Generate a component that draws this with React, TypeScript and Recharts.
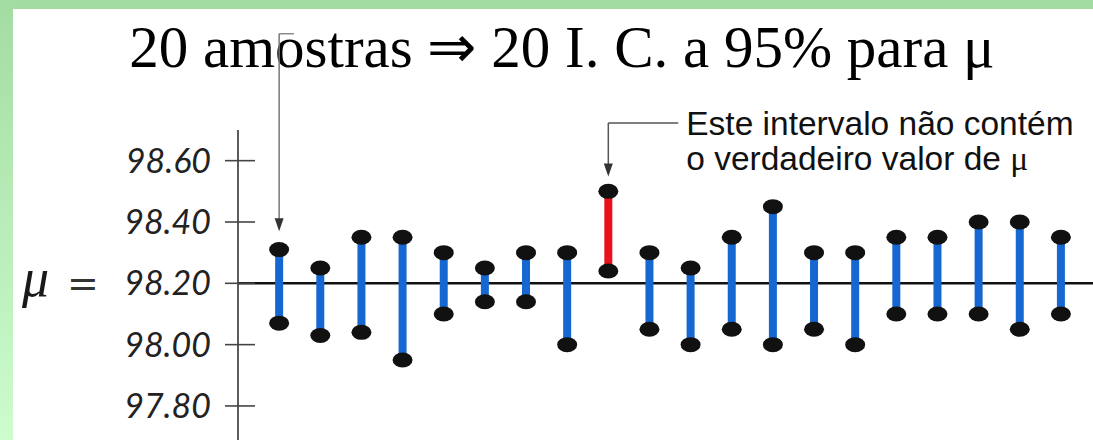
import React from "react";
import {
  ComposedChart,
  XAxis,
  YAxis,
  Scatter,
  ErrorBar,
  ReferenceLine,
} from "recharts";

// ---- data ----
const sampleIds = [1, 2, 3, 4, 5, 6, 7, 8, 9, 10, 11, 12, 13, 14, 15, 16, 17, 18, 19, 20];
const lowerBounds = [98.07, 98.03, 98.04, 97.95, 98.10, 98.14, 98.14, 98.00, 98.24, 98.05,
  98.00, 98.05, 98.00, 98.05, 98.00, 98.10, 98.10, 98.10, 98.05, 98.10];
const upperBounds = [98.31, 98.25, 98.35, 98.35, 98.30, 98.25, 98.30, 98.30, 98.50, 98.30,
  98.25, 98.35, 98.45, 98.30, 98.30, 98.35, 98.35, 98.40, 98.40, 98.35];
const yTicks = [97.8, 98.0, 98.2, 98.4, 98.6];
const muValue = 98.2;
const titleText = "20 amostras \u21D2 20 I. C. a 95% para \u03BC";
const noteLine1 = "Este intervalo não contém";
const noteLine2 = "o verdadeiro valor de ";

const rows = sampleIds.map((id, i) => {
  const lo = lowerBounds[i];
  const hi = upperBounds[i];
  const mid = (lo + hi) / 2;
  return { idx: id, lo, hi, y: mid, err: [mid - lo, hi - mid], covers: lo <= muValue && hi >= muValue };
});
const coverRows = rows.filter((r) => r.covers);
const missRows = rows.filter((r) => !r.covers);
const lowPoints = rows.map((r) => ({ idx: r.idx, y: r.lo }));
const highPoints = rows.map((r) => ({ idx: r.idx, y: r.hi }));
const missed = missRows[0];

const BLUE = "#1667d2";
const RED = "#e8121c";

const Dot = (p: any) => <ellipse cx={p.cx} cy={p.cy} rx={10} ry={7.5} fill="#111" />;
const Nothing = () => <g />;

const YTick = (props: any) => {
  const { x, y, payload } = props;
  const v = Number(payload.value);
  return (
    <g>
      <line x1={x - 13} x2={x + 17} y1={y} y2={y} stroke="#444" strokeWidth={1.6} />
      <text
        x={x - 27}
        y={y + 12}
        textAnchor="end"
        fontFamily="Lato, 'Open Sans', sans-serif"
        fontStyle="italic"
        fontWeight={400}
        fontSize={34}
        fill="#222"
      >
        {v.toFixed(2)}
      </text>
      {Math.abs(v - muValue) < 1e-9 && (
        <>
          <text x={22} y={y + 13} fontFamily="'Liberation Serif', serif" fontStyle="italic" fontSize={54} fill="#1a1a1a">
            μ
          </text>
          <text x={67} y={y + 13} fontFamily="'DejaVu Sans', sans-serif" fontSize={38} fill="#333">
            =
          </text>
        </>
      )}
    </g>
  );
};

const makeArrow = (head: boolean, color: string) => (p: any) => {
  const { x1, y1, x2, y2 } = p;
  return (
    <g>
      <line x1={x1} y1={y1} x2={x2} y2={head ? y2 - 10 : y2} stroke={color} strokeWidth={1.5} />
      {head && <polygon points={`${x2 - 4.5},${y2 - 13} ${x2 + 4.5},${y2 - 13} ${x2},${y2}`} fill="#333" />}
    </g>
  );
};

const NoteShape = (p: any) => {
  const { x1, y1, x2, y2 } = p;
  const right = Math.max(x1, x2);
  return (
    <g>
      <line x1={x1} y1={y1} x2={x2} y2={y2} stroke="#555" strokeWidth={1.5} />
      <text x={right + 8} y={y1 + 12} fontFamily="'Liberation Sans', Arial, sans-serif" fontSize={33.5} fill="#111">
        {noteLine1}
      </text>
      <text x={right + 8} y={y1 + 47} fontFamily="'Liberation Sans', Arial, sans-serif" fontSize={33.5} fill="#111">
        {noteLine2}
        <tspan fontFamily="'Liberation Serif', serif">μ</tspan>
      </text>
    </g>
  );
};

export default function App() {
  return (
    <div
      style={{
        position: "absolute",
        left: 0,
        top: 0,
        width: 1093,
        height: 440,
        background: "#ffffff",
        overflow: "hidden",
      }}
    >
      <div style={{ position: "absolute", left: 0, top: 0, width: 1093, height: 9, background: "#a3dca3" }} />
      <div
        style={{
          position: "absolute",
          left: 0,
          top: 0,
          width: 13,
          height: 440,
          background: "linear-gradient(#a3dca3, #cdfccd)",
        }}
      />
      <svg width={1093} height={440} style={{ position: "absolute", left: 0, top: 0 }}>
        <text x={562} y={67} textAnchor="middle" fontFamily="'Liberation Serif', 'Times New Roman', serif" fontSize={59} fill="#000">
          {titleText}
        </text>
      </svg>
      <div style={{ position: "absolute", left: 0, top: 0 }}>
        <ComposedChart width={1093} height={440} margin={{ top: 130, right: 0, bottom: 0, left: 0 }}>
          <XAxis type="number" dataKey="idx" domain={[0, 20.78]} hide allowDataOverflow />
          <YAxis
            type="number"
            dataKey="y"
            width={238}
            domain={[97.689, 98.7]}
            allowDataOverflow
            ticks={yTicks}
            interval={0}
            tickLine={false}
            tickSize={0}
            tickMargin={0}
            axisLine={{ stroke: "#333", strokeWidth: 1.6 }}
            tick={<YTick />}
          />
          <ReferenceLine y={muValue} stroke="#111" strokeWidth={2.5} />
          <Scatter data={coverRows} isAnimationActive={false} shape={<Nothing />}>
            <ErrorBar dataKey="err" direction="y" width={0} stroke={BLUE} strokeWidth={8} isAnimationActive={false} />
          </Scatter>
          <Scatter data={missRows} isAnimationActive={false} shape={<Nothing />}>
            <ErrorBar dataKey="err" direction="y" width={0} stroke={RED} strokeWidth={8} isAnimationActive={false} />
          </Scatter>
          <Scatter data={lowPoints} isAnimationActive={false} shape={<Dot />} />
          <Scatter data={highPoints} isAnimationActive={false} shape={<Dot />} />
          <ReferenceLine
            ifOverflow="visible"
            segment={[{ x: 1.36, y: 99.014 }, { x: 1, y: 99.014 }]}
            shape={makeArrow(false, "#888")}
          />
          <ReferenceLine
            ifOverflow="visible"
            segment={[{ x: 1, y: 99.014 }, { x: 1, y: 98.37 }]}
            shape={makeArrow(true, "#777")}
          />
          <ReferenceLine
            ifOverflow="visible"
            segment={[{ x: 10.7, y: 98.723 }, { x: missed.idx, y: 98.723 }]}
            shape={NoteShape}
          />
          <ReferenceLine
            ifOverflow="visible"
            segment={[{ x: missed.idx, y: 98.723 }, { x: missed.idx, y: 98.548 }]}
            shape={makeArrow(true, "#555")}
          />
        </ComposedChart>
      </div>
    </div>
  );
}
